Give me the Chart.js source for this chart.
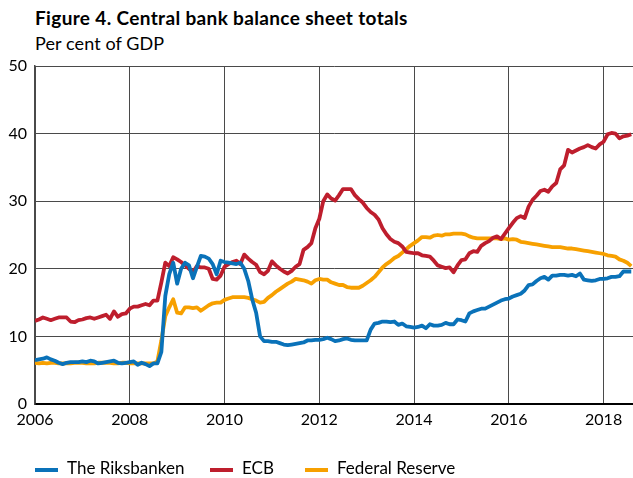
<!DOCTYPE html>
<html lang="en">
<head>
    <meta charset="UTF-8">
    <title>Central bank balance sheet totals</title>
    <script src="https://cdn.jsdelivr.net/npm/chart.js"></script>
    <style>
        body {
            margin: 0;
            width: 633px;
            height: 478px;
            position: relative;
            overflow: hidden;
            background: #fff;
            font-family: Lato, sans-serif;
            color: #000;
        }
        .title {
            position: absolute;
            left: 35px;
            top: 6px;
            font-size: 19px;
            letter-spacing: 0.35px;
            font-weight: bold;
        }
        .subtitle {
            position: absolute;
            left: 35px;
            top: 32px;
            font-size: 18px;
            letter-spacing: 0.1px;
        }
        .chart-box {
            position: absolute;
            left: 0;
            top: 0;
            width: 633px;
            height: 478px;
        }
        .legend-item {
            position: absolute;
            top: 458px;
            font-size: 17px;
            line-height: 20px;
            white-space: nowrap;
        }
        .legend-item i {
            display: inline-block;
            width: 23px;
            height: 4px;
            margin-right: 9px;
            vertical-align: middle;
        }
    </style>
</head>
<body>
    <div class="title">Figure 4. Central bank balance sheet totals</div>
    <div class="subtitle">Per cent of GDP</div>
    <div class="chart-box">
        <canvas id="chart"></canvas>
    </div>
    <div class="legend-item" style="left:35px"><i style="background:#0a72b9"></i>The Riksbanken</div>
    <div class="legend-item" style="left:210px"><i style="background:#be1e2d"></i>ECB</div>
    <div class="legend-item" style="left:305px"><i style="background:#f7a000"></i>Federal Reserve</div>

    <script>
        // monthly observations, Jan 2006 - Aug 2018
        const startYear = 2006;
        const seriesNames = ['The Riksbanken', 'ECB', 'Federal Reserve'];

        const riksbank = [
            6.5, 6.6, 6.7, 6.9, 6.6, 6.4, 6.1, 5.9, 6.1, 6.2, 6.2, 6.2,
            6.3, 6.2, 6.4, 6.3, 6.0, 6.1, 6.2, 6.3, 6.4, 6.1, 6.0, 6.1,
            6.2, 6.3, 5.8, 6.1, 5.9, 5.6, 6.0, 6.0, 7.7, 16.0, 19.2, 20.9,
            17.8, 20.0, 20.9, 20.5, 18.6, 20.3, 21.9, 21.8, 21.5, 20.7, 19.2, 21.2,
            21.0, 20.9, 20.8, 20.7, 20.9, 20.0, 18.2, 15.5, 13.5, 10.0, 9.3, 9.3,
            9.2, 9.2, 9.0, 8.8, 8.7, 8.8, 8.9, 9.0, 9.1, 9.4, 9.4, 9.5,
            9.5, 9.6, 9.8, 9.6, 9.3, 9.4, 9.6, 9.7, 9.5, 9.4, 9.4, 9.4,
            9.4, 11.0, 11.9, 12.0, 12.2, 12.2, 12.1, 12.2, 11.7, 11.9, 11.5, 11.4,
            11.3, 11.4, 11.6, 11.2, 11.8, 11.6, 11.6, 11.7, 12.0, 11.8, 11.8, 12.5,
            12.4, 12.2, 13.4, 13.7, 13.9, 14.1, 14.1, 14.4, 14.7, 15.0, 15.3, 15.5,
            15.6, 15.9, 16.1, 16.3, 16.8, 17.6, 17.7, 18.2, 18.6, 18.8, 18.4, 19.0,
            19.0, 19.1, 19.1, 19.0, 19.1, 18.9, 19.3, 18.4, 18.3, 18.2, 18.3, 18.5,
            18.5, 18.6, 18.8, 18.8, 18.9, 19.6, 19.6, 19.6
        ];

        const ecb = [
            12.3, 12.5, 12.8, 12.6, 12.4, 12.6, 12.8, 12.8, 12.8, 12.2, 12.1, 12.4,
            12.5, 12.7, 12.8, 12.6, 12.8, 13.0, 13.2, 12.6, 13.7, 12.9, 13.3, 13.4,
            14.1, 14.4, 14.4, 14.6, 14.8, 14.6, 15.3, 15.3, 18.0, 20.9, 20.4, 21.7,
            21.4, 21.0, 20.5, 20.0, 19.5, 20.4, 20.2, 20.2, 20.0, 18.5, 18.4, 19.0,
            20.3, 20.7, 21.0, 21.2, 20.7, 22.1, 21.5, 21.0, 20.6, 19.5, 19.2, 19.7,
            21.1, 20.5, 20.0, 19.6, 19.3, 19.7, 20.3, 20.7, 22.8, 23.2, 23.8, 26.0,
            27.4, 30.0, 31.0, 30.4, 30.1, 30.9, 31.8, 31.8, 31.8, 30.9, 30.3, 29.8,
            29.0, 28.4, 28.0, 27.3, 26.0, 25.1, 24.4, 24.0, 23.8, 23.3, 22.5, 22.4,
            22.3, 22.3, 22.0, 21.9, 21.8, 21.2, 20.5, 20.3, 20.1, 20.2, 19.5, 20.5,
            21.3, 21.4, 22.3, 22.6, 22.5, 23.4, 23.8, 24.1, 24.6, 24.8, 24.4, 25.2,
            26.0, 26.8, 27.5, 27.8, 27.5, 29.2, 30.2, 30.8, 31.5, 31.7, 31.4, 32.2,
            32.7, 34.7, 35.3, 37.6, 37.2, 37.5, 37.8, 38.0, 38.3, 38.0, 37.8, 38.4,
            38.8, 39.9, 40.1, 40.0, 39.3, 39.6, 39.7, 39.9
        ];

        const fed = [
            6.1, 6.0, 6.1, 6.0, 6.1, 6.1, 6.0, 6.0, 6.0, 6.0, 6.1, 6.1,
            6.1, 6.0, 6.0, 6.0, 6.1, 6.1, 6.1, 6.1, 6.0, 6.0, 6.1, 6.1,
            6.0, 6.0, 6.0, 6.0, 6.0, 6.0, 6.0, 6.3, 9.4, 13.0, 14.3, 15.5,
            13.5, 13.4, 14.3, 14.3, 14.2, 14.3, 13.8, 14.2, 14.6, 14.9, 15.0, 15.0,
            15.4, 15.6, 15.8, 15.8, 15.8, 15.8, 15.7, 15.5, 15.3, 15.0, 15.1, 15.7,
            16.1, 16.6, 17.0, 17.4, 17.8, 18.1, 18.5, 18.4, 18.3, 18.1, 17.8, 18.3,
            18.5, 18.4, 18.4, 18.0, 17.8, 17.6, 17.6, 17.3, 17.2, 17.2, 17.2, 17.5,
            17.9, 18.3, 18.8, 19.5, 20.2, 20.7, 21.1, 21.6, 21.9, 22.4, 22.9, 23.4,
            23.8, 24.2, 24.7, 24.7, 24.6, 24.9, 25.0, 24.9, 25.1, 25.1, 25.2, 25.2,
            25.2, 25.1, 24.8, 24.6, 24.5, 24.5, 24.5, 24.5, 24.5, 24.5, 24.4, 24.5,
            24.3, 24.4, 24.3, 24.0, 23.9, 23.8, 23.7, 23.6, 23.5, 23.4, 23.3, 23.2,
            23.2, 23.2, 23.1, 23.0, 23.0, 22.9, 22.8, 22.7, 22.6, 22.5, 22.4, 22.3,
            22.2, 22.0, 21.9, 21.8, 21.4, 21.2, 20.9, 20.4
        ];

        const xMin = 2006;
        const xMax = 2018.62;
        const yMin = 0;
        const yMax = 50;

        function toPoints(values) {
            return values.map((v, i) => ({ x: startYear + i / 12, y: v }));
        }

        const colors = ['#0a72b9', '#be1e2d', '#f7a000'];
        const seriesValues = [riksbank, ecb, fed];

        const chart = new Chart(document.getElementById('chart'), {
            type: 'line',
            data: {
                datasets: seriesValues.map((vals, k) => ({
                    label: seriesNames[k],
                    data: toPoints(vals),
                    borderColor: colors[k],
                    backgroundColor: colors[k],
                    borderWidth: 3.8,
                    pointRadius: 0,
                    tension: 0,
                    borderJoinStyle: 'round'
                }))
            },
            options: {
                responsive: true,
                maintainAspectRatio: false,
                animation: false,
                layout: {
                    padding: { top: 66, right: 0, bottom: 44, left: 0 }
                },
                plugins: {
                    legend: { display: false },
                    tooltip: { enabled: false }
                },
                scales: {
                    x: {
                        type: 'linear',
                        min: xMin,
                        max: xMax,
                        afterFit: s => { s.height = 30; },
                        ticks: {
                            stepSize: 2,
                            includeBounds: false,
                            autoSkip: false,
                            maxRotation: 0,
                            padding: 6,
                            color: '#000',
                            font: { family: 'Lato', size: 16 },
                            callback: v => String(v)
                        },
                        grid: {
                            color: '#4a4a4a',
                            lineWidth: 1,
                            drawTicks: false
                        },
                        border: { color: '#000', width: 2 }
                    },
                    y: {
                        min: yMin,
                        max: yMax,
                        afterFit: s => { s.width = 35; },
                        ticks: {
                            stepSize: 10,
                            padding: 8,
                            color: '#000',
                            font: { family: 'Lato', size: 16 }
                        },
                        grid: {
                            color: '#4a4a4a',
                            lineWidth: 1,
                            drawTicks: false
                        },
                        border: { color: '#4a4a4a', width: 1.5 }
                    }
                }
            }
        });
    </script>
</body>
</html>
